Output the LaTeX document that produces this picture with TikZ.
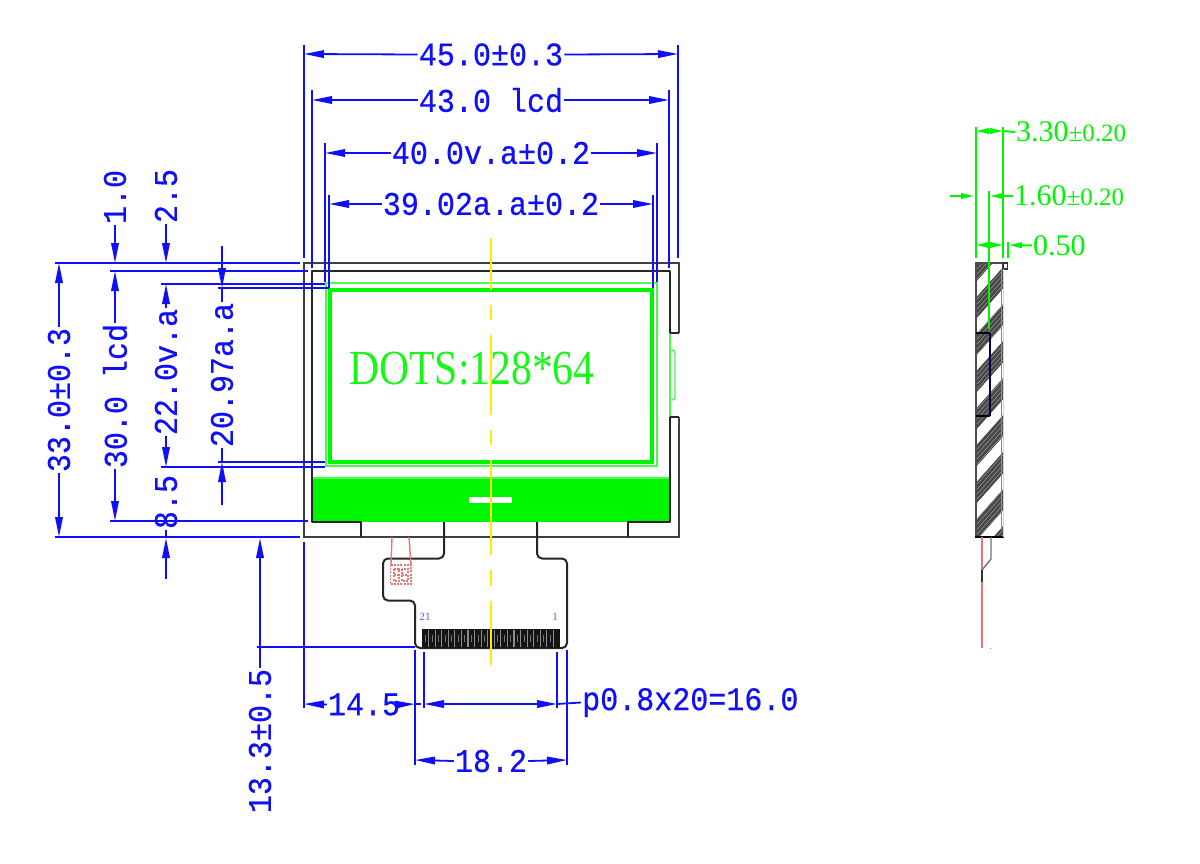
\documentclass[tikz,border=0pt]{standalone}
\usepackage{fontspec}
\setmainfont{Liberation Serif}
\newfontfamily\dimfont[RawFeature={extend=0.91;embolden=0.5}]{Liberation Mono}
\usetikzlibrary{arrows.meta}
\definecolor{dimblue}{RGB}{15,15,250}
\definecolor{lgreen}{RGB}{0,245,0}
\definecolor{softred}{RGB}{225,120,120}
\tikzset{
  dimline/.style={draw=dimblue,line width=1.8pt},
  tip/.style={dimline,-{Triangle[length=20pt,width=7.5pt]}},
  tiptwo/.style={dimline,{Triangle[length=20pt,width=7.5pt]}-{Triangle[length=20pt,width=7.5pt]}},
  dimtext/.style={font=\dimfont\fontsize{33}{33}\selectfont,text=dimblue,inner sep=1pt},
  vdimtext/.style={dimtext,rotate=90},
  gline/.style={draw=lgreen,line width=2pt},
  gtip/.style={gline,-{Triangle[length=13pt,width=5.5pt]}},
  gtext/.style={text=lgreen,inner sep=1pt,anchor=west},
  body/.style={draw=black!75,line width=2pt},
  bodydark/.style={draw=black!85,line width=2pt,line join=round},
  lightg/.style={draw=lgreen!70,line width=1.4pt},
}
\begin{document}
\begin{tikzpicture}[x=1pt,y=-1pt]
\useasboundingbox (0,0) rectangle (1200,863);
\fill[white] (0,0) rectangle (1200,863);

% ---- green display parts
\fill[lgreen] (311,478) rectangle (670,522);
\fill[white] (469,497) rectangle (512,503);
\draw[lightg] (311,478) -- (670,478);
\draw[lightg] (312,271) -- (670,271);
\draw[lightg] (326,283) rectangle (657,466);
\draw[draw=lgreen,line width=4pt] (330,290) rectangle (652,461.5);
\draw[lightg] (670,333) -- (670,417);
\draw[lightg,rounded corners=3pt] (670,350) -- (675,350) -- (675,400) -- (670,400);
\node[text=lgreen!90,inner sep=0pt,xscale=.85,font=\fontsize{49}{49}\selectfont] (dots) at (472,369) {DOTS:128*64};

% ---- body outline
\draw[body] (678.5,333) -- (678.5,263) -- (304,263) -- (304,537) -- (678.5,537) -- (678.5,417);
\draw[bodydark] (670,333) -- (670,271) -- (311.5,271) -- (311.5,522) -- (361,522) -- (361,537);
\draw[bodydark] (670,333) -- (678.5,333) (670,417) -- (678.5,417);
\draw[bodydark] (670,417) -- (670,522) -- (628,522) -- (628,537);
\draw[bodydark,rounded corners=5pt] (444,522) -- (444,558.5) -- (383,558.5) -- (383,600.5) -- (415,600.5) -- (415,648) -- (567,648) -- (567,558.5) -- (537,558.5) -- (537,522);

% ---- FPC contacts
\fill[black!92] (422,629) rectangle (560,648);
\foreach \i in {1,...,20}{
  \fill[black!45] ({422+\i*6.57-0.6},630) rectangle ({422+\i*6.57+0.6},647);
  \fill[black!55] ({422+\i*6.57-3.6},635) rectangle ({422+\i*6.57-2.9},642);
}
\node[text=dimblue!70,inner sep=0pt,font=\fontsize{11}{11}\selectfont] (pinA) at (425,617) {21};
\node[text=dimblue!70,inner sep=0pt,font=\fontsize{11}{11}\selectfont] (pinB) at (555,617) {1};

% ---- red lead marks
\draw[softred,line width=1.4pt] (392,537) -- (391,565) (409,537) -- (411,565);
\draw[softred,line width=1.2pt,dash pattern=on 2pt off 1.2pt] (390.5,565) rectangle (411,584);
\draw[softred,line width=1.2pt,dash pattern=on 2pt off 1.2pt] (394,569) rectangle (399,581) (402,569) rectangle (408,581);
\draw[softred,line width=1.2pt,dash pattern=on 2pt off 1.2pt] (394,575) -- (399,575) (402,575) -- (408,575);

% ---- yellow centre line
\draw[yellow!95!orange,line width=1.8pt] (491,238) -- (491,290) (491,305) -- (491,320) (491,335) -- (491,415) (491,430) -- (491,445) (491,460) -- (491,555) (491,570) -- (491,586) (491,601) -- (491,665);

% ---- top dimensions
\draw[dimline] (304,45) -- (304,258) (678,45) -- (678,258);
\draw[dimline] (312,90) -- (312,268) (669,90) -- (669,268);
\draw[dimline] (325,143) -- (325,282) (657,143) -- (657,282);
\draw[dimline] (329,195) -- (329,288) (653,195) -- (653,288);
\node[dimtext] (t45) at (491,54.5) {45.0±0.3};
\node[dimtext] (t43) at (491,100) {43.0 lcd};
\node[dimtext] (t40) at (491,153) {40.0v.a±0.2};
\node[dimtext] (t39) at (491,204) {39.02a.a±0.2};
\coordinate (a1) at (304,54); \coordinate (a2) at (678,54);
\coordinate (b1) at (312,100); \coordinate (b2) at (669,100);
\coordinate (c1) at (325,153); \coordinate (c2) at (657,153);
\coordinate (d1) at (329,204); \coordinate (d2) at (653,204);
\draw[tip] (t45.west) -- (a1); \draw[tip] (t45.east) -- (a2);
\draw[tip] (t43.west) -- (b1); \draw[tip] (t43.east) -- (b2);
\draw[tip] (t40.west) -- (c1); \draw[tip] (t40.east) -- (c2);
\draw[tip] (t39.west) -- (d1); \draw[tip] (t39.east) -- (d2);

% ---- left dimensions: extension lines
\draw[dimline] (55,263) -- (300,263) (55,537) -- (300,537);
\draw[dimline] (110,271) -- (308,271) (110,521) -- (308,521);
\draw[dimline] (161,284) -- (325,284) (161,467) -- (325,467);
\draw[dimline] (218,288) -- (329,288) (218,462) -- (325,462);
\draw[dimline] (257,647) -- (415,647);

% 33.0
\node[vdimtext] (v33) at (59,400) {33.0±0.3};
\coordinate (e1) at (59,263); \coordinate (e2) at (59,537);
\draw[tip] (v33.east) -- (e1); \draw[tip] (v33.west) -- (e2);
% 30.0
\node[vdimtext] (v30) at (115,396) {30.0 lcd};
\coordinate (f1) at (115,271); \coordinate (f2) at (115,521);
\draw[tip] (v30.east) -- (f1); \draw[tip] (v30.west) -- (f2);
% 1.0
\node[vdimtext] (v1) at (115,197) {1.0};
\coordinate (g1) at (115,263);
\draw[tip] (v1.west) -- (g1);
% 2.5
\node[vdimtext] (v25) at (166,196) {2.5};
\coordinate (h1) at (166,263);
\draw[tip] (v25.west) -- (h1);
% 22.0
\node[vdimtext] (v22) at (166,372) {22.0v.a};
\coordinate (i1) at (166,284); \coordinate (i2) at (166,467);
\draw[tip] (v22.east) -- (i1); \draw[tip] (v22.west) -- (i2);
% 8.5
\node[vdimtext] (v85) at (166,502) {8.5};
\coordinate (j1) at (166,579); \coordinate (j2) at (166,538); \coordinate (j3) at (166,537);
\draw[tip] (j1) -- (j2);
\draw[dimline] (v85.west) -- (j3);
% 20.97
\node[vdimtext] (v20) at (222,375) {20.97a.a};
\coordinate (k0) at (222,246); \coordinate (k1) at (222,288);
\coordinate (k2) at (222,505); \coordinate (k3) at (222,462);
\draw[tip] (k0) -- (k1); \draw[dimline] (k1) -- (v20.east);
\draw[tip] (k2) -- (k3); \draw[dimline] (k3) -- (v20.west);
% 13.3
\node[vdimtext] (v13) at (260,741) {13.3±0.5};
\coordinate (l0) at (260,647); \coordinate (l1) at (260,538);
\draw[tip] (l0) -- (l1); \draw[dimline] (l0) -- (v13.east);

% ---- bottom dimensions
\draw[dimline] (304,542) -- (304,708);
\draw[dimline] (415,650) -- (415,765) (567,650) -- (567,765);
\draw[dimline] (424,652) -- (424,708) (557,652) -- (557,708);
\node[dimtext] (t14) at (364,704.5) {14.5};
\coordinate (m1) at (304,704); \coordinate (m2) at (415,704); \coordinate (m3) at (421,704);
\draw[tip] (t14.west) -- (m1); \draw[tip] (t14.east) -- (m2); \draw[dimline] (m2) -- (m3);
\coordinate (n1) at (424,704); \coordinate (n2) at (557,704);
\draw[tiptwo] (n1) -- (n2);
\node[dimtext,anchor=west] (t16) at (581,702.5) {p0.8x20=16.0};
\draw[dimline] (n2) -- (t16.west);
\node[dimtext] (t18) at (491,761) {18.2};
\coordinate (o1) at (415,760); \coordinate (o2) at (567,760);
\draw[tip] (t18.west) -- (o1); \draw[tip] (t18.east) -- (o2);

% ---- side view
\begin{scope}
\clip (976,263) rectangle (1003,537);
\foreach \k in {0,...,9}{
  \fill[black!72] (970,{267+\k*37}) -- (1010,{222+\k*37}) -- (1010,{244+\k*37}) -- (970,{289+\k*37}) -- cycle;
}
\foreach \k in {0,...,70}{
  \draw[black!40,line width=.5pt] (970,{267+\k*5}) -- (1010,{222+\k*5});
}
\foreach \k in {0,...,9}{
  \fill[white] (970,{289+\k*37}) -- (1010,{244+\k*37}) -- (1010,{259+\k*37}) -- (970,{304+\k*37}) -- cycle;
}
\end{scope}
\draw[draw=black!70,line width=2.4pt] (976,537) -- (976,263) -- (1003,263);
\draw[draw=black,line width=2pt] (975,537) -- (1004,537);
\draw[draw=black!80,line width=1.2pt] (1003,263) -- (1007.5,263) -- (1007.5,269) -- (1003,269) -- cycle;
\draw[draw=magenta!70,line width=1.1pt] (1001.5,269) -- (1001.5,530);
\draw[draw=yellow!90!orange,line width=1.4pt] (1003.5,269) -- (1003.5,537);
\draw[draw=black,line width=1.4pt] (976,333) -- (990,333);
\draw[draw=black!70!blue,line width=1.4pt] (990,333) -- (990,416);
\draw[draw=black,line width=1.4pt] (990,416) -- (976,416);
\draw[softred,line width=1.8pt] (982,537) -- (982,648);
\draw[black!55,line width=1.4pt] (991,537) -- (991,559) -- (982,570);
\draw[black!80,line width=1.4pt] (982,570) -- (982,582);
\fill[softred] (989.5,647.5) rectangle (991,649);

% ---- green dimensions
\draw[gline] (976,127) -- (976,258) (1003,127) -- (1003,258);
\draw[gline] (1008,242) -- (1008,258);
\draw[gline] (989.3,191) -- (989.3,329);
\node[gtext] (s33) at (1015,132) {\fontsize{30}{30}\selectfont 3.30\fontsize{25}{25}\selectfont ±0.20};
\node[gtext] (s16) at (1013,196) {\fontsize{30}{30}\selectfont 1.60\fontsize{25}{25}\selectfont ±0.20};
\node[gtext] (s05) at (1032,245.5) {\fontsize{30}{30}\selectfont 0.50};
\coordinate (p1) at (976,131); \coordinate (p2) at (1003,131); \coordinate (p3) at (989.5,131);
\draw[gtip] (p3) -- (p1); \draw[gtip] (p3) -- (p2); \draw[gline] (p2) -- (s33.west);
\coordinate (q0) at (950,196); \coordinate (q1) at (974,196); \coordinate (q2) at (990,196);
\draw[gtip] (q0) -- (q1); \draw[gtip] (s16.west) -- (q2);
\coordinate (r1) at (976,245); \coordinate (r2) at (1003,245); \coordinate (r3) at (1009,245); \coordinate (r4) at (989.5,245);
\draw[gtip] (r4) -- (r1); \draw[gtip] (r4) -- (r2); \draw[gtip] (s05.west) -- (r3);
\end{tikzpicture}
\end{document}
